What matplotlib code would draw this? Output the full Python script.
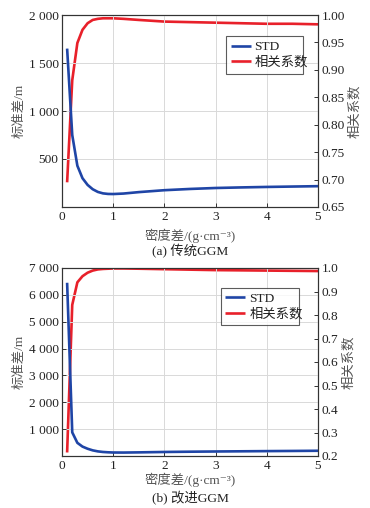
import matplotlib
matplotlib.use("Agg")
import matplotlib.pyplot as plt
from matplotlib.ticker import FuncFormatter

plt.rcParams['font.family'] = ['Liberation Serif', 'Noto Sans CJK SC', 'DejaVu Sans']

# ---- data (a) traditional GGM ----
x_a = [0.1, 0.2, 0.3, 0.4, 0.5, 0.6, 0.7, 0.8, 0.9, 1.0, 1.2, 1.5, 2.0, 2.5, 3.0, 3.5, 4.0, 4.5, 5.0]
std_a = [1650, 750, 430, 300, 230, 185, 157, 142, 136, 135, 140, 155, 175, 188, 198, 204, 209, 213, 217]
r_a = [0.695, 0.881, 0.949, 0.973, 0.985, 0.991, 0.993, 0.994, 0.994, 0.994, 0.993, 0.991, 0.988, 0.987, 0.986, 0.985, 0.984, 0.984, 0.983]

# ---- data (b) improved GGM ----
x_b = [0.1, 0.2, 0.3, 0.4, 0.5, 0.6, 0.7, 0.8, 0.9, 1.0, 1.2, 1.5, 2.0, 2.5, 3.0, 3.5, 4.0, 4.5, 5.0]
std_b = [6450, 880, 490, 350, 270, 210, 172, 150, 138, 130, 128, 135, 150, 160, 168, 175, 182, 188, 195]
r_b = [0.215, 0.843, 0.939, 0.965, 0.980, 0.989, 0.994, 0.996, 0.997, 0.998, 0.998, 0.997, 0.995, 0.993, 0.991, 0.990, 0.989, 0.988, 0.987]

xticks = [0, 1, 2, 3, 4, 5]
yticks_a = [500, 1000, 1500, 2000]
rticks_a = [0.65, 0.70, 0.75, 0.80, 0.85, 0.90, 0.95, 1.00]
yticks_b = [1000, 2000, 3000, 4000, 5000, 6000, 7000]
rticks_b = [0.2, 0.3, 0.4, 0.5, 0.6, 0.7, 0.8, 0.9, 1.0]

xlabel = '密度差/(g·cm⁻³)'
ylabel_l = '标准差/m'
ylabel_r = '相关系数'
captions = ['(a) 传统GGM', '(b) 改进GGM']
legend_labels = ['STD', '相关系数']

BLUE = '#1f45a6'
RED = '#e8202a'
SPINE = '#333333'
TXT = '#222222'
LBL = '#555555'
FS = 9.6
SERIF_CJK = ['Liberation Serif', 'Noto Sans CJK SC', 'DejaVu Sans']

def thousands(v, pos):
    return f"{int(round(v)):,}".replace(',', ' ')

fig = plt.figure(figsize=(3.70, 5.08), dpi=100)
W, H = 370.0, 508.0

panels = [
    dict(rect=(62, 15, 318, 207), x=x_a, std=std_a, r=r_a, ylim=(0, 2000), yt=yticks_a,
         rlim=(0.65, 1.00), rt=rticks_a, rfmt='%.2f', leg=(0.64, 0.889, 0.30, 0.0),
         xl_y=236, cap_y=251),
    dict(rect=(62, 268, 318, 456), x=x_b, std=std_b, r=r_b, ylim=(0, 7000), yt=yticks_b,
         rlim=(0.2, 1.0), rt=rticks_b, rfmt='%.1f', leg=(0.62, 0.895, 0.305, 0.0),
         xl_y=480, cap_y=498),
]

for i, p in enumerate(panels):
    l, t, r_, b = p['rect']
    ax = fig.add_axes([l / W, 1 - b / H, (r_ - l) / W, (b - t) / H])
    ax2 = ax.twinx()
    ax.set_zorder(ax2.get_zorder() + 1)
    ax.patch.set_visible(False)

    h1, = ax.plot(p['x'], p['std'], color=BLUE, lw=1.9, solid_capstyle='butt')
    h2, = ax2.plot(p['x'], p['r'], color=RED, lw=1.9, solid_capstyle='butt')

    ax.set_xlim(0, 5)
    ax.set_ylim(*p['ylim'])
    ax.set_xticks(xticks)
    ax.set_yticks(p['yt'])
    ax.yaxis.set_major_formatter(FuncFormatter(thousands))
    ax2.set_ylim(*p['rlim'])
    ax2.set_yticks(p['rt'])
    ax2.set_yticklabels([p['rfmt'] % v for v in p['rt']])

    ax.grid(True, color='#d9d9d9', lw=0.7)
    ax.set_axisbelow(True)

    for a in (ax, ax2):
        a.tick_params(direction='in', length=3, width=0.7, colors=SPINE, labelsize=FS,
                      labelcolor=TXT, pad=2.5)
        for s in a.spines.values():
            s.set_color(SPINE)
            s.set_linewidth(0.8)
    ax.tick_params(axis='x', pad=3.0)

    ax.set_ylabel(ylabel_l, fontsize=FS, color=LBL, family=SERIF_CJK, labelpad=2)
    ax2.set_ylabel(ylabel_r, fontsize=FS, color=LBL, family=SERIF_CJK, labelpad=3)

    fig.text((l + r_) / 2 / W, 1 - p['xl_y'] / H, xlabel, ha='center', va='center',
             fontsize=FS, color=LBL, family=SERIF_CJK)
    fig.text((l + r_) / 2 / W, 1 - p['cap_y'] / H, captions[i], ha='center', va='center',
             fontsize=FS, color='#222222', family=SERIF_CJK)

    leg = ax.legend([h1, h2], legend_labels, loc='upper left', bbox_to_anchor=p['leg'],
                    mode='expand', fontsize=FS, frameon=True, fancybox=False,
                    handlelength=1.5, handletextpad=0.3, borderpad=0.35, labelspacing=0.25,
                    borderaxespad=0)
    leg.get_frame().set_edgecolor('#333333')
    leg.get_frame().set_linewidth(0.8)
    for txt in leg.get_texts():
        txt.set_color(TXT)
        txt.set_fontfamily(SERIF_CJK)

fig.savefig('out.png', dpi=100)
